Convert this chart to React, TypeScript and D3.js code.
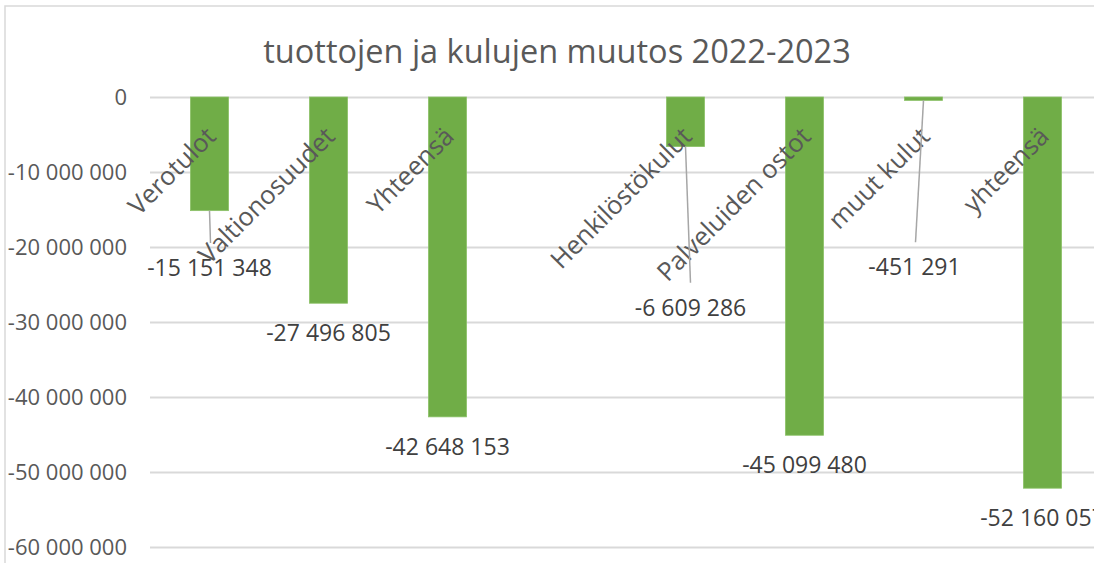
import React, { useRef, useEffect } from 'react'
import * as d3 from 'd3'

// data
const categories = ['Verotulot', 'Valtionosuudet', 'Yhteensä', '', 'Henkilöstökulut', 'Palveluiden ostot', 'muut kulut', 'yhteensä']
const values = [-15151348, -27496805, -42648153, null, -6609286, -45099480, -451291, -52160057]
const yTicks = [0, -10000000, -20000000, -30000000, -40000000, -50000000, -60000000]
// labels that were dragged away from the bar end (value position + x nudge, px)
const movedLabels: { [k: number]: { at: number; dx: number } } = {
    0: { at: -22800000, dx: 0 },
    4: { at: -28100000, dx: 5 },
    6: { at: -22700000, dx: -9 },
}

const title = 'tuottojen ja kulujen muutos 2022-2023'

const fmt = (v: number) => {
    const s = Math.abs(Math.round(v)).toString().replace(/\B(?=(\d{3})+(?!\d))/g, ' ')
    return (v < 0 ? '-' : '') + s
}

export default function App() {
    const visEl = useRef<HTMLDivElement>(null)
    const width = 1094
    const height = 563

    useEffect(() => {
        const root = d3.select(visEl.current)
        root.selectAll('*').remove()
        const svg = root.append('svg')
            .attr('width', width)
            .attr('height', height)
            .style('display', 'block')
            .style('font-family', "'Open Sans', sans-serif")

        svg.append('rect').attr('width', width).attr('height', height).attr('fill', '#fff')

        // chart frame (cut off on the right and bottom)
        svg.append('path')
            .attr('d', `M5,${height + 5} V6 H${width + 5}`)
            .attr('fill', 'none')
            .attr('stroke', '#d9d9d9')
            .attr('stroke-width', 1.5)

        const keys = categories.map((c, i) => c || `gap${i}`)
        const x = d3.scaleBand()
            .domain(keys)
            .range([150, 1102])
            .paddingInner(0.68)
            .paddingOuter(0.34)

        const y = d3.scaleLinear().domain([-60000000, 0]).range([547, 97])

        svg.append('text')
            .attr('x', 557)
            .attr('y', 63)
            .attr('text-anchor', 'middle')
            .attr('fill', '#595959')
            .attr('font-size', 32.5)
            .text(title)

        const yAxis = d3.axisLeft(y)
            .tickValues(yTicks)
            .tickSize(-(1102 - 150))
            .tickPadding(23)
            .tickFormat(d => fmt(+d))

        const yAxisG = svg.append('g')
            .attr('transform', 'translate(150,0)')
            .call(yAxis)
        yAxisG.select('.domain').remove()
        yAxisG.selectAll('.tick line').attr('stroke', '#d9d9d9').attr('stroke-width', 2)
        yAxisG.selectAll('.tick text')
            .attr('fill', '#595959')
            .attr('font-size', 22)
            .attr('font-family', "'Open Sans', sans-serif")

        const rows = values.map((v, i) => ({ key: keys[i], name: categories[i], v, i }))
            .filter(d => d.v !== null) as { key: string; name: string; v: number; i: number }[]

        svg.append('g').selectAll('rect').data(rows).enter().append('rect')
            .attr('x', d => x(d.key)!)
            .attr('y', y(0))
            .attr('width', x.bandwidth())
            .attr('height', d => Math.max(1.5, y(d.v) - y(0)))
            .attr('fill', '#70ad47')
            .attr('stroke', '#8cc168')
            .attr('stroke-width', 0.8)

        // category labels sit just under the zero line
        svg.append('g').selectAll('text').data(rows).enter().append('text')
            .attr('transform', d => `translate(${x(d.key)! + x.bandwidth() / 2 + 8},${y(0) + 41}) rotate(-45)`)
            .attr('text-anchor', 'end')
            .attr('fill', '#595959')
            .attr('font-size', 25.5)
            .text(d => d.name)

        const labelPos = (d: { v: number; i: number; key: string }) => {
            const cx = x(d.key)! + x.bandwidth() / 2
            const m = movedLabels[d.i]
            if (m) return { x: cx + m.dx, y: y(m.at) }
            return { x: cx, y: y(d.v) + 30 }
        }

        // leader lines for moved labels
        svg.append('g').selectAll('line').data(rows.filter(d => movedLabels[d.i])).enter().append('line')
            .attr('x1', d => x(d.key)! + x.bandwidth() / 2)
            .attr('y1', d => y(d.v))
            .attr('x2', d => labelPos(d).x + (d.i === 4 ? 0 : 1))
            .attr('y2', d => labelPos(d).y - 25)
            .attr('stroke', '#a6a6a6')
            .attr('stroke-width', 1.5)

        svg.append('g').selectAll('text').data(rows).enter().append('text')
            .attr('x', d => labelPos(d).x)
            .attr('y', d => labelPos(d).y)
            .attr('dy', '0.35em')
            .attr('text-anchor', 'middle')
            .attr('fill', '#404040')
            .attr('font-size', 23)
            .text(d => fmt(d.v))
    }, [])

    return (
        <div style={{ position: 'absolute', left: 0, top: 0 }}>
            <div ref={visEl}></div>
        </div>
    )
}
